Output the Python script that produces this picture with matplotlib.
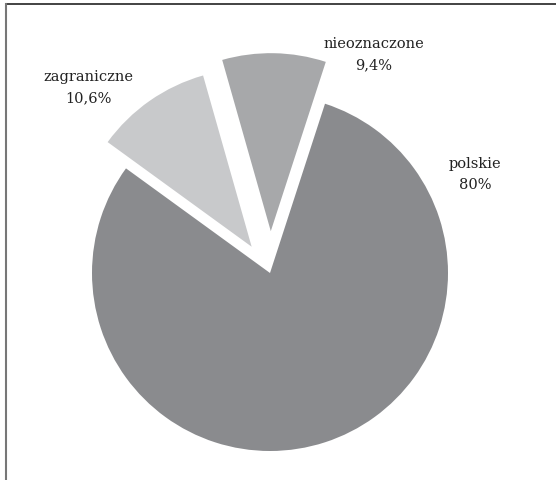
import matplotlib
matplotlib.use("Agg")
import matplotlib.pyplot as plt
from matplotlib.lines import Line2D

# data
labels = ['nieoznaczone', 'zagraniczne', 'polskie']
values = [9.4, 10.6, 80.0]
pct_text = ['9,4%', '10,6%', '80%']
colors = ['#a7a8aa', '#c8c9cb', '#8a8b8e']
explode = [0.235, 0.18, 0.0]

W, H = 556, 481
fig = plt.figure(figsize=(W / 100, H / 100), dpi=100)

# pie centre / radius in pixels
cx, cy, r = 270, 274, 178
ax = fig.add_axes([0, 0, 1, 1])
ax.pie(values, colors=colors, explode=explode, startangle=72,
       counterclock=True, radius=1, wedgeprops=dict(linewidth=0))
ax.set_xlim(-cx / r, (W - cx) / r)
ax.set_ylim(-(H - cy) / r, cy / r)
ax.set_aspect('equal')
ax.axis('off')

# label positions (pixel, from top-left)
label_pos = [(374, 44), (88, 77), (475, 164)]
for name, pct, (px, py) in zip(labels, pct_text, label_pos):
    fig.text(px / W, 1 - py / H, name, ha='center', va='center',
             family='DejaVu Serif', fontsize=10.5, color='#222222')
    fig.text(px / W, 1 - (py + 21) / H, pct, ha='center', va='center',
             family='DejaVu Serif', fontsize=10.5, color='#222222')

# frame: top and left only
fig.add_artist(Line2D([6 / W, 1], [1 - 5 / H, 1 - 5 / H], color='#222222', lw=1.2))
fig.add_artist(Line2D([6 / W, 6 / W], [0, 1 - 5 / H], color='#777777', lw=1.5))

fig.savefig('out.png', dpi=100)
